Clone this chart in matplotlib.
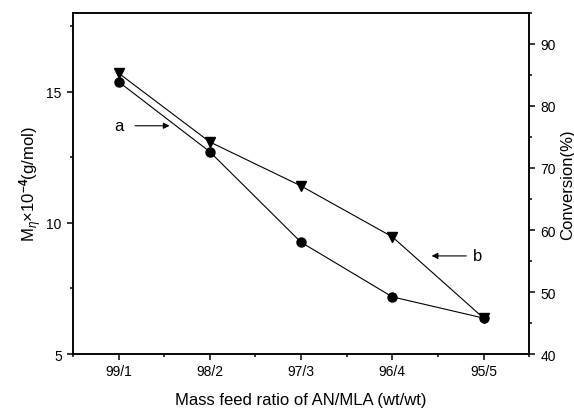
import numpy as np
import matplotlib.pyplot as plt
from matplotlib.ticker import MultipleLocator

plt.rcParams['font.family'] = ['Liberation Sans', 'DejaVu Sans']
plt.rcParams['mathtext.fontset'] = 'custom'
plt.rcParams['mathtext.rm'] = 'Liberation Sans'
plt.rcParams['mathtext.it'] = 'Liberation Sans:italic'
plt.rcParams['mathtext.bf'] = 'Liberation Sans:bold'

# data
ratios = ['99/1', '98/2', '97/3', '96/4', '95/5']
mw = [15.38, 12.71, 9.26, 7.18, 6.37]          # viscosity-average MW (x10^-4 g/mol), circles
conversion = [85.3, 74.2, 67.1, 58.9, 45.8]    # conversion (%), triangles

x = np.arange(1, len(ratios) + 1)

fig = plt.figure(figsize=(5.74, 4.10), dpi=100)
ax = fig.add_axes([0.127, 0.134, 0.795, 0.832])
ax2 = ax.twinx()

# curve a (circles, left axis)
ax.plot(x, mw, color='black', lw=0.8, marker='o', ms=6.5,
        mfc='black', mec='black')
# curve b (triangles, right axis)
ax2.plot(x, conversion, color='black', lw=0.8, marker='v', ms=7.5,
         mfc='black', mec='black')

ax.set_xlim(0.5, 5.5)
ax.set_ylim(5, 18)
ax2.set_ylim(40, 95)

ax.set_xticks(x)
ax.set_xticklabels(ratios)
ax.xaxis.set_minor_locator(MultipleLocator(0.5))
ax.yaxis.set_major_locator(MultipleLocator(5))
ax.yaxis.set_minor_locator(MultipleLocator(2.5))
ax2.yaxis.set_major_locator(MultipleLocator(10))
ax2.yaxis.set_minor_locator(MultipleLocator(5))

for a in (ax, ax2):
    a.tick_params(which='major', direction='out', length=4.5, width=1.1, labelsize=10)
    a.tick_params(which='minor', direction='out', length=2.5, width=1.1)
    for s in a.spines.values():
        s.set_linewidth(1.1)
ax.tick_params(axis='x', which='both', top=False)
ax.tick_params(axis='x', pad=3)

ax.set_xlabel('Mass feed ratio of AN/MLA (wt/wt)', fontsize=12, labelpad=10)
ax.set_ylabel(r'M$_{\eta}$$\times$10$^{\mathbf{-4}}$(g/mol)', fontsize=12, labelpad=2)
ax2.set_ylabel('Conversion(%)', fontsize=12, labelpad=3)

# labels with arrows
arr = dict(arrowstyle='-|>', color='black', lw=0.8, mutation_scale=9)
ax.annotate('', xy=(1.59, 13.7), xytext=(1.15, 13.7), arrowprops=arr)
ax.text(1.0, 13.7, 'a', fontsize=12, ha='center', va='center')
ax.annotate('', xy=(4.40, 8.74), xytext=(4.84, 8.74), arrowprops=arr)
ax.text(4.93, 8.74, 'b', fontsize=12, ha='center', va='center')

fig.savefig('out.png', dpi=100)
